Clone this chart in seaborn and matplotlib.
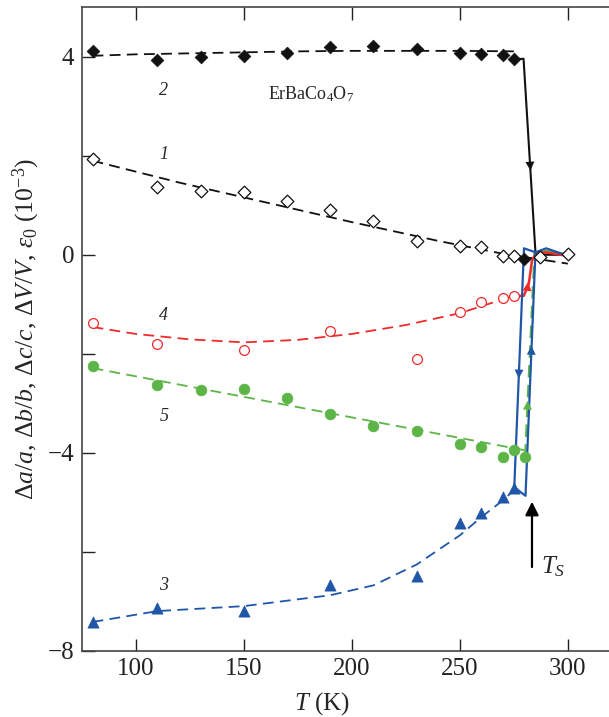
import matplotlib
matplotlib.use('Agg')
import matplotlib.pyplot as plt
import seaborn as sns

# measured points (T in K, strain in 1e-3)
t_1 = [80, 110, 130, 150, 170, 190, 210, 230, 250, 260, 270, 275, 287, 300]
v_1 = [1.94, 1.37, 1.29, 1.27, 1.08, 0.91, 0.69, 0.28, 0.18, 0.15, -0.02, -0.03, -0.04, 0.01]

t_2 = [80, 110, 130, 150, 170, 190, 210, 230, 250, 260, 270, 275, 279.5]
v_2 = [4.12, 3.94, 4.0, 4.02, 4.08, 4.2, 4.22, 4.16, 4.08, 4.05, 4.04, 3.95, -0.08]

t_3 = [80, 110, 150, 190, 230, 250, 260, 270, 275]
v_3 = [-7.43, -7.13, -7.19, -6.68, -6.5, -5.42, -5.21, -4.9, -4.71]

t_4 = [80, 110, 150, 190, 230, 250, 260, 270, 275]
v_4 = [-1.37, -1.8, -1.92, -1.55, -2.1, -1.16, -0.96, -0.88, -0.83]

t_5 = [80, 110, 130, 150, 170, 190, 210, 230, 250, 260, 270, 275, 280]
v_5 = [-2.24, -2.64, -2.74, -2.71, -2.9, -3.21, -3.47, -3.57, -3.83, -3.89, -4.08, -3.95, -4.08]

# dashed trend lines
fit_t1 = [80, 120, 160, 200, 240, 270, 300]
fit_v1 = [1.9, 1.46, 1.06, 0.66, 0.28, 0.02, -0.18]
fit_t2 = [80, 100, 125, 150, 175, 200, 225, 250, 275]
fit_v2 = [4.02, 4.05, 4.07, 4.09, 4.11, 4.12, 4.12, 4.12, 4.11]
fit_t3 = [80, 110, 150, 190, 210, 230, 250, 260, 270, 275]
fit_v3 = [-7.42, -7.2, -7.1, -6.88, -6.68, -6.26, -5.67, -5.3, -4.96, -4.76]
fit_t4 = [80, 100, 125, 150, 175, 200, 225, 250, 275]
fit_v4 = [-1.46, -1.6, -1.71, -1.77, -1.72, -1.6, -1.42, -1.18, -0.83]
fit_t5 = [80, 280]
fit_v5 = [-2.29, -3.95]

# transition branches near T_s
jump_t2 = [275, 279.5, 285, 290, 300]
jump_v2 = [3.95, 3.96, 0.05, 0.0, 0.0]
loop_t3 = [275.2, 279.7, 285, 280.4, 275.2]
loop_v3 = [-4.7, 0.13, 0.05, -4.87, -4.7]
top_t3 = [285, 290, 300]
top_v3 = [0.05, 0.13, -0.02]
jump_t4 = [275, 279.6, 281.9, 283.4, 285, 289.6, 299.6]
jump_v4 = [-0.83, -0.83, -0.59, -0.12, 0.01, 0.05, -0.02]
jump_t5 = [280.2, 284.5]
jump_v5 = [-4.08, 0.02]
top_t5 = [284.5, 290, 300]
top_v5 = [0.02, 0.08, 0.0]

black = '#111111'
red = '#ee2a2a'
green = '#5cb546'
blue = '#1f56a8'

sns.set_style('ticks')
plt.rcParams['font.family'] = ['Liberation Serif', 'DejaVu Serif']
plt.rcParams['mathtext.fontset'] = 'custom'
plt.rcParams['mathtext.rm'] = 'Liberation Serif'
plt.rcParams['mathtext.it'] = 'Liberation Serif:italic'
plt.rcParams['mathtext.bf'] = 'Liberation Serif:bold'

fig = plt.figure(figsize=(6.09, 7.17), dpi=100)
ax = fig.add_axes([0.1342, 0.0925, 0.866, 0.8973])

dash = (0, (6, 3.5))
for ft, fv, c in [(fit_t1, fit_v1, black), (fit_t2, fit_v2, black), (fit_t3, fit_v3, blue),
                  (fit_t4, fit_v4, red), (fit_t5, fit_v5, green)]:
    sns.lineplot(x=ft, y=fv, ax=ax, color=c, lw=1.3, linestyle=dash,
                 sort=False, estimator=None)

sns.lineplot(x=jump_t5, y=jump_v5, ax=ax, color=green, lw=1.5, linestyle=dash,
             sort=False, estimator=None)
sns.lineplot(x=top_t5, y=top_v5, ax=ax, color=green, lw=1.6, sort=False, estimator=None)
sns.lineplot(x=jump_t2, y=jump_v2, ax=ax, color=black, lw=1.5, sort=False, estimator=None)
sns.lineplot(x=jump_t4, y=jump_v4, ax=ax, color=red, lw=1.8, sort=False, estimator=None)
sns.lineplot(x=loop_t3, y=loop_v3, ax=ax, color=blue, lw=1.6, sort=False, estimator=None)
sns.lineplot(x=top_t3, y=top_v3, ax=ax, color=blue, lw=1.6, sort=False, estimator=None)

# markers
sns.scatterplot(x=t_2, y=v_2, ax=ax, marker='D', s=42, color=black, edgecolor=black,
                linewidth=0.5, zorder=3)
sns.scatterplot(x=t_1, y=v_1, ax=ax, marker='D', s=42, facecolor='white',
                edgecolor=black, linewidth=0.9, zorder=3)
sns.scatterplot(x=t_4, y=v_4, ax=ax, marker='o', s=50, facecolor='white',
                edgecolor=red, linewidth=0.9, zorder=3)
sns.scatterplot(x=t_5, y=v_5, ax=ax, marker='o', s=60, color=green, edgecolor=green,
                linewidth=0.5, zorder=3)
sns.scatterplot(x=t_3, y=v_3, ax=ax, marker='^', s=65, color=blue, edgecolor=blue,
                linewidth=0.5, zorder=3)

# direction arrowheads on transition branches
def head(x0, y0, x1, y1, c):
    ax.annotate('', xy=(x1, y1), xytext=(x0, y0),
                arrowprops=dict(arrowstyle='-|>', color=c, lw=0, mutation_scale=16,
                                shrinkA=0, shrinkB=0))

head(282.1, 2.1, 282.7, 1.7, black)
head(277.6, -2.1, 277.26, -2.5, blue)
head(282.9, -2.2, 283.2, -1.84, blue)
head(281.2, -3.3, 281.4, -2.95, green)
head(281.0, -0.8, 281.6, -0.55, red)

# T_s arrow
ax.annotate('', xy=(283.4, -4.99), xytext=(283.4, -6.31),
            arrowprops=dict(arrowstyle='-|>', color='black', lw=1.6, mutation_scale=20,
                            shrinkA=0, shrinkB=0))
ax.text(287.5, -6.3, r'$T_S$', fontsize=18, ha='left', va='center')

for lab, yy in [('2', 3.31), ('1', 2.02), ('4', -1.23), ('5', -3.26), ('3', -6.68)]:
    ax.text(113, yy, lab, fontsize=13, fontstyle='italic', ha='center', va='center')
ax.text(181.3, 3.25, r'ErBaCo$_4$O$_7$', fontsize=13, ha='center', va='center')

ax.set_xlim(75, 319.1)
ax.set_ylim(-8, 5)
ax.set_xticks([100, 150, 200, 250, 300])
ax.set_yticks([-8, -6, -4, -2, 0, 2, 4])
ax.set_yticklabels(['\u22128', '', '\u22124', '', '0', '', '4'])
ax.tick_params(direction='in', length=9, width=1, top=True, right=False,
               labelsize=18, colors='#222222')
ax.tick_params(axis='x', pad=5)
ax.tick_params(axis='y', pad=5.5)
for side in ['left', 'bottom', 'top']:
    ax.spines[side].set_linewidth(1.2)
    ax.spines[side].set_color('#444444')
ax.spines['right'].set_visible(False)

ax.set_xlabel(r'$T$ (K)', fontsize=18)
ax.xaxis.set_label_coords(0.456, -0.062)
ax.set_ylabel(r'$\Delta a/a$, $\Delta b/b$, $\Delta c/c$, $\Delta V/V$, $\epsilon_0$ (10$^{-3}$)',
              fontsize=18.5)
ax.yaxis.set_label_coords(-0.075, 0.5)

fig.savefig('out.png', dpi=100)
